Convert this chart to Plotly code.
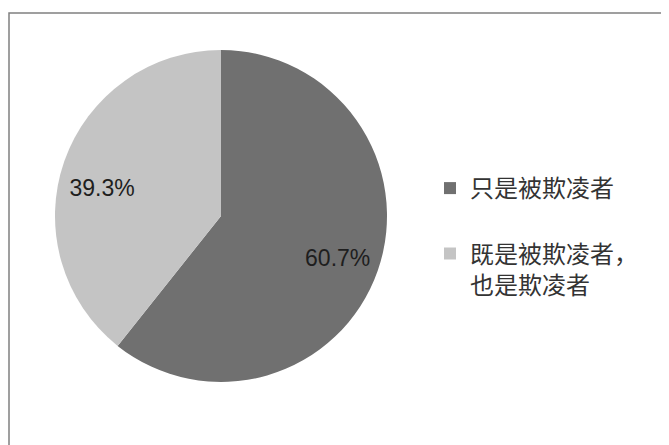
import plotly.graph_objects as go

labels = ["只是被欺凌者<br> ", "既是被欺凌者，<br>也是欺凌者"]
values = [60.7, 39.3]
colors = ["#707070", "#c4c4c4"]

W, H = 669, 445
NB = "\u00a0"

# percent labels pushed outward inside their slices (padding only)
text_templates = [
    NB + "<br>" + NB * 12 + "%{percent:.1%}",
    "%{percent:.1%}" + NB * 12,
]

fig = go.Figure(go.Pie(
    labels=labels,
    values=values,
    sort=False,
    direction="clockwise",
    rotation=0,
    marker=dict(colors=colors, line=dict(width=0)),
    texttemplate=text_templates,
    textposition="inside",
    insidetextorientation="horizontal",
    textfont=dict(family="Liberation Sans, Arial, sans-serif", size=23, color="#1e1e1e"),
    domain=dict(x=[47 / W, 379 / W], y=[(H - 374) / H, (H - 42) / H]),
    hoverinfo="label+percent",
))

fig.update_layout(
    width=W,
    height=H,
    margin=dict(l=0, r=0, t=0, b=0),
    paper_bgcolor="white",
    plot_bgcolor="white",
    showlegend=True,
    legend=dict(
        x=422 / W,
        y=1 - 158 / H,
        xanchor="left",
        yanchor="top",
        valign="top",
        font=dict(family="Noto Sans CJK SC", size=24, color="#333333"),
        itemwidth=30,
        bgcolor="rgba(0,0,0,0)",
    ),
    shapes=[
        dict(type="rect", xref="paper", yref="paper",
             x0=1 / W, x1=1.02, y0=-0.02, y1=1 - 5 / H,
             line=dict(color="#808080", width=1.5), fillcolor="rgba(0,0,0,0)",
             layer="below"),
    ],
)

fig.write_html("out.html")
